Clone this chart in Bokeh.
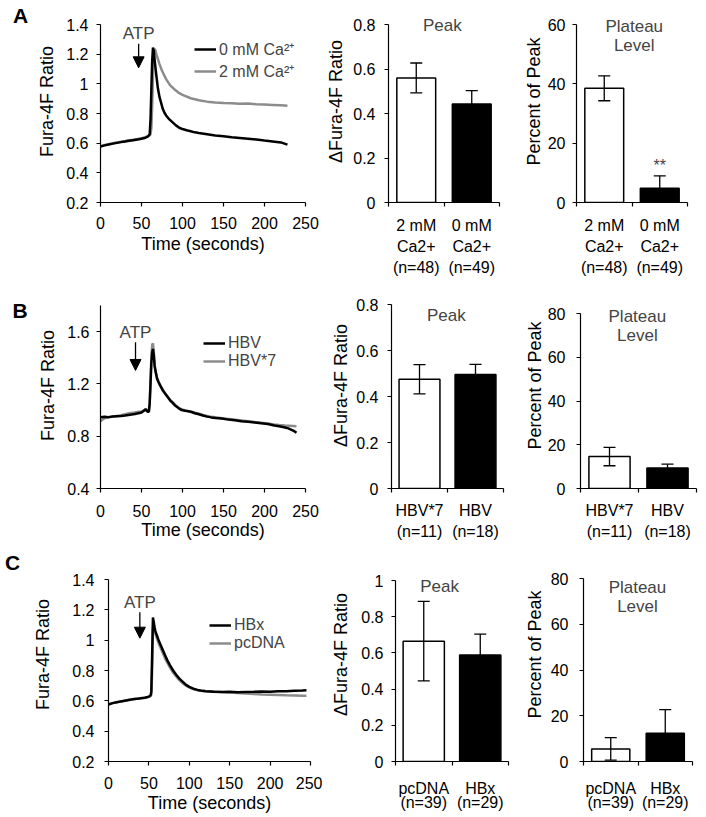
from bokeh.plotting import figure
from bokeh.layouts import column, row
from bokeh.models import (Range1d, FixedTicker, CustomJSTickFormatter, Label, Arrow,
                          NormalHead, Legend, LegendItem, Whisker, TeeHead, ColumnDataSource)
from bokeh.core.properties import value
from bokeh.embed import file_html
from bokeh.resources import INLINE

FONT = "Liberation Sans"
BLACK = "#000000"
GRAY = "#8c8c8c"

# ---------------- data ----------------
time_ticks = [0, 50, 100, 150, 200, 250]

# Panel A traces
a_t_0mM = [0, 5, 10, 15, 20, 25, 30, 35, 40, 45, 50, 55, 58, 60, 61, 62, 63, 64, 65, 66, 68, 70,
           72, 74, 76, 78, 80, 84, 88, 92, 96, 100, 105, 110, 115, 120, 130, 140, 150, 160, 170,
           180, 190, 200, 210, 220, 228]
a_v_0mM = [0.578, 0.585, 0.591, 0.597, 0.602, 0.607, 0.611, 0.616, 0.62, 0.624, 0.63, 0.637,
           0.645, 0.66, 0.76, 0.96, 1.15, 1.245, 1.22, 1.16, 1.06, 0.97, 0.91, 0.87, 0.83, 0.805,
           0.787, 0.76, 0.74, 0.72, 0.704, 0.695, 0.687, 0.68, 0.673, 0.668, 0.66, 0.652, 0.646,
           0.64, 0.635, 0.63, 0.625, 0.618, 0.612, 0.605, 0.59]
a_t_2mM = [0, 5, 10, 15, 20, 25, 30, 35, 40, 45, 50, 55, 58, 60, 61, 62, 63, 64, 65, 66, 67, 68,
           70, 72, 75, 80, 85, 90, 95, 100, 110, 120, 130, 140, 150, 160, 170, 180, 190, 200, 210,
           220, 228]
a_v_2mM = [0.58, 0.587, 0.593, 0.6, 0.605, 0.61, 0.614, 0.619, 0.623, 0.628, 0.634, 0.64, 0.648,
           0.655, 0.66, 0.7, 0.85, 1.05, 1.2, 1.235, 1.225, 1.2, 1.167, 1.133, 1.088, 1.032, 0.99,
           0.964, 0.941, 0.926, 0.903, 0.889, 0.88, 0.874, 0.871, 0.869, 0.865, 0.867, 0.862, 0.86,
           0.858, 0.856, 0.853]

# Panel B traces
b_t_hbv = [0, 5, 10, 15, 20, 25, 30, 34, 38, 42, 46, 50, 53, 55, 57, 58, 59, 60, 61, 62, 63, 64,
           65, 66, 67, 69, 71, 73, 76, 79, 82, 85, 88, 91, 95, 99, 103, 107, 111, 115, 120, 125,
           130, 135, 140, 148, 156, 164, 172, 180, 188, 196, 204, 212, 218, 225, 229, 233, 236, 239]
b_v_hbv = [0.945, 0.948, 0.946, 0.951, 0.953, 0.955, 0.958, 0.963, 0.966, 0.97, 0.976, 0.982,
           0.995, 1.008, 0.992, 0.985, 0.99, 1.05, 1.2, 1.36, 1.44, 1.467, 1.42, 1.34, 1.30, 1.24,
           1.21, 1.185, 1.15, 1.124, 1.10, 1.073, 1.055, 1.034, 1.015, 1.0, 0.995, 0.991, 0.985,
           0.976, 0.968, 0.958, 0.95, 0.944, 0.94, 0.935, 0.927, 0.922, 0.915, 0.91, 0.905, 0.899,
           0.894, 0.882, 0.876, 0.866, 0.86, 0.848, 0.84, 0.826]
b_t_hbv7 = [0, 3, 6, 10, 15, 20, 25, 30, 35, 40, 45, 50, 54, 57, 59, 60, 61, 62, 63, 64, 65, 66,
            67, 69, 71, 73, 76, 79, 82, 85, 88, 91, 95, 99, 103, 107, 111, 115, 120, 125, 130, 135,
            140, 148, 156, 164, 172, 180, 188, 196, 204, 212, 218, 225, 230, 235, 239]
b_v_hbv7 = [0.915, 0.93, 0.94, 0.945, 0.95, 0.955, 0.96, 0.968, 0.975, 0.98, 0.985, 0.99, 1.0,
            0.99, 0.99, 1.06, 1.22, 1.4, 1.5, 1.51, 1.44, 1.35, 1.30, 1.245, 1.215, 1.19, 1.155,
            1.128, 1.10, 1.078, 1.06, 1.04, 1.02, 1.004, 0.998, 0.992, 0.988, 0.98, 0.972, 0.962,
            0.955, 0.948, 0.945, 0.938, 0.932, 0.926, 0.92, 0.914, 0.908, 0.903, 0.898, 0.89,
            0.886, 0.882, 0.88, 0.878, 0.876]

# Panel C traces
c_t = [0, 5, 10, 15, 20, 25, 30, 35, 40, 45, 50, 52, 53, 54, 55, 56, 57, 58, 60, 62, 64, 66, 68,
       70, 73, 76, 80, 84, 88, 92, 96, 100, 105, 110, 115, 120, 130, 140, 150, 160, 170, 180, 190,
       200, 210, 220, 230, 240, 245]
c_v_hbx = [0.575, 0.585, 0.59, 0.595, 0.6, 0.605, 0.61, 0.613, 0.617, 0.62, 0.628, 0.635, 0.66,
           0.9, 1.15, 1.12, 1.085, 1.06, 1.03, 1.0, 0.975, 0.95, 0.925, 0.9, 0.865, 0.835, 0.8,
           0.77, 0.745, 0.725, 0.705, 0.692, 0.68, 0.672, 0.667, 0.663, 0.66, 0.658, 0.66, 0.657,
           0.659, 0.66, 0.662, 0.66, 0.663, 0.664, 0.666, 0.668, 0.67]
c_v_pcdna = [0.58, 0.585, 0.59, 0.596, 0.6, 0.605, 0.61, 0.614, 0.617, 0.62, 0.626, 0.632, 0.64,
             0.8, 1.08, 1.1, 1.07, 1.045, 1.01, 0.98, 0.955, 0.93, 0.905, 0.88, 0.85, 0.82, 0.785,
             0.76, 0.735, 0.715, 0.7, 0.688, 0.678, 0.672, 0.668, 0.665, 0.662, 0.658, 0.655,
             0.652, 0.648, 0.645, 0.642, 0.64, 0.638, 0.636, 0.635, 0.633, 0.633]

# ATP addition marks (time, text level, arrow start, arrow end)
atp_a = [46.5, 1.34, 1.27, 1.108]
atp_b = [42.7, 1.59, 1.519, 1.303]
atp_c = [38.8, 1.249, 1.184, 1.013]

# Bar data
cats_a = ["2 mM\nCa2+\n(n=48)", "0 mM\nCa2+\n(n=49)"]
peak_a_mean = [0.56, 0.443]
peak_a_err = [0.067, 0.06]
plat_a_mean = [38.5, 4.8]
plat_a_err = [4.2, 4.2]

cats_b = ["HBV*7\n(n=11)", "HBV\n(n=18)"]
peak_b_mean = [0.475, 0.496]
peak_b_err = [0.064, 0.044]
plat_b_mean = [14.6, 9.4]
plat_b_err = [4.2, 1.7]

cats_c = ["pcDNA\n(n=39)", "HBx\n(n=29)"]
peak_c_mean = [0.665, 0.589]
peak_c_err = [0.22, 0.115]
plat_c_mean = [5.5, 12.4]
plat_c_err = [4.9, 10.3]

line_a_yticks = [0.2, 0.4, 0.6, 0.8, 1, 1.2, 1.4]
line_b_yticks = [0.4, 0.8, 1.2, 1.6]
line_c_yticks = [0.2, 0.4, 0.6, 0.8, 1, 1.2, 1.4]
peak_ab_yticks = [0, 0.2, 0.4, 0.6, 0.8]
peak_c_yticks = [0, 0.2, 0.4, 0.6, 0.8, 1]
plat_a_yticks = [0, 20, 40, 60]
plat_bc_yticks = [0, 20, 40, 60, 80]

FMT_CODE = "return String(tick);"


def ext_range(lo, hi, top_px, row):
    """y range whose frame spans the whole row above the shared x axis,
    with `hi` landing at pixel `top_px` (page coordinates)."""
    r_top, r_h, bb = row
    bottom = r_top + r_h - bb
    s = (hi - lo) / (bottom - top_px)
    return Range1d(lo, lo + s * (bottom - r_top))


def base_fig(w, row, bl, br, xr, yr):
    p = figure(width=w, height=row[1], x_range=xr, y_range=yr, output_backend="svg",
               title=None, toolbar_location=None, min_border_left=bl, min_border_right=br,
               min_border_top=0, min_border_bottom=row[2])
    p.outline_line_color = None
    p.background_fill_color = "white"
    p.border_fill_color = "white"
    p.xgrid.visible = False
    p.ygrid.visible = False
    for ax in [p.xaxis[0], p.yaxis[0]]:
        ax.axis_line_color = BLACK
        ax.axis_line_width = 1.2
        ax.major_tick_line_color = BLACK
        ax.major_tick_line_width = 1.2
        ax.major_tick_in = 0
        ax.major_tick_out = 4
        ax.minor_tick_line_color = None
        ax.major_label_text_font = FONT
        ax.major_label_text_font_size = "16px"
        ax.major_label_text_color = BLACK
        ax.axis_label_text_font = FONT
        ax.axis_label_text_font_size = "18px"
        ax.axis_label_text_font_style = "normal"
        ax.axis_label_text_color = BLACK
    return p


def letter_fig(row, letter, lx, ly):
    fh = row[1] - row[2]
    p = figure(width=30, height=row[1], x_range=Range1d(0, 30), y_range=Range1d(fh, 0),
               output_backend="svg", toolbar_location=None, x_axis_location=None,
               y_axis_location=None, title=None, min_border=0, min_border_left=0,
               min_border_right=0, min_border_top=0, min_border_bottom=row[2])
    p.outline_line_color = None
    p.background_fill_color = "white"
    p.border_fill_color = "white"
    p.grid.visible = False
    p.text(x=[lx], y=[ly], text=[letter], text_align="center", text_baseline="middle",
           text_font=value(FONT), text_font_size="21px", text_font_style="bold",
           text_color=BLACK)
    return p


def line_panel(row, w, bl, br, ylo, yhi, top_px, yticks, tb, vb, tg, vg, lab_b, lab_g,
               leg_loc, atp, y_std, y_als, x_std, x_als, x_lh=1.2):
    p = base_fig(w, row, bl, br, Range1d(0, 250), ext_range(ylo, yhi, top_px, row))
    p.yaxis.bounds = (ylo, yhi)
    p.xaxis.ticker = FixedTicker(ticks=time_ticks)
    p.yaxis.ticker = FixedTicker(ticks=yticks)
    p.yaxis.formatter = CustomJSTickFormatter(code=FMT_CODE)
    p.xaxis.axis_label = "Time (seconds)"
    p.yaxis.axis_label = "Fura-4F Ratio"
    p.yaxis.major_label_standoff = y_std
    p.yaxis.axis_label_standoff = y_als
    p.xaxis.major_label_standoff = x_std
    p.xaxis.axis_label_standoff = x_als
    p.xaxis.major_label_text_line_height = x_lh
    p.xaxis.axis_label_text_line_height = x_lh
    rg = p.line(tg, vg, line_color=GRAY, line_width=2.5)
    rb = p.line(tb, vb, line_color=BLACK, line_width=2.5)
    leg = Legend(items=[LegendItem(label=lab_b, renderers=[rb]),
                        LegendItem(label=lab_g, renderers=[rg])],
                 location=leg_loc, padding=0, margin=0, spacing=0,
                 glyph_width=22, glyph_height=18, label_height=18, label_standoff=3,
                 label_text_font=FONT, label_text_font_size="16px",
                 background_fill_alpha=0, border_line_alpha=0)
    p.add_layout(leg)
    p.add_layout(Label(x=atp[0], y=atp[1], text="ATP", text_align="center",
                       text_baseline="middle", text_font=FONT, text_font_size="17px"))
    p.add_layout(Arrow(x_start=atp[0], y_start=atp[2], x_end=atp[0], y_end=atp[3],
                       line_width=1.3, line_color=BLACK,
                       end=NormalHead(size=11, fill_color=BLACK, line_color=BLACK)))
    return p


def bar_panel(row, w, bl, br, ytop, top_px, yticks, cats, means, errs, ylabel, title,
              title_x, title_dy, bar_w, lh, x_std, y_std, y_als, stars=None):
    n = len(cats)
    centers = [i + 0.5 for i in range(n)]
    p = base_fig(w, row, bl, br, Range1d(0, n), ext_range(0, ytop, top_px, row))
    p.yaxis.bounds = (0, ytop)
    p.yaxis.ticker = FixedTicker(ticks=yticks)
    p.yaxis.formatter = CustomJSTickFormatter(code=FMT_CODE)
    p.yaxis.axis_label = ylabel
    p.yaxis.major_label_standoff = y_std
    p.yaxis.axis_label_standoff = y_als
    xa = p.xaxis[0]
    xa.ticker = FixedTicker(ticks=centers, minor_ticks=list(range(n + 1)))
    xa.major_tick_out = 0
    xa.minor_tick_in = 0
    xa.minor_tick_out = 4
    xa.minor_tick_line_color = BLACK
    xa.minor_tick_line_width = 1.2
    xa.major_label_overrides = {c: lab for c, lab in zip(centers, cats)}
    xa.major_label_standoff = x_std
    xa.major_label_text_line_height = lh
    p.vbar(x=centers, top=means, bottom=0, width=bar_w, fill_color=["white", "black"],
           line_color=BLACK, line_width=1.5)
    src = ColumnDataSource(dict(base=centers,
                                lower=[m - e for m, e in zip(means, errs)],
                                upper=[m + e for m, e in zip(means, errs)]))
    wk = Whisker(source=src, base="base", lower="lower", upper="upper",
                 line_color=BLACK, line_width=1.3,
                 upper_head=TeeHead(size=12, line_color=BLACK, line_width=1.3),
                 lower_head=TeeHead(size=12, line_color=BLACK, line_width=1.3))
    wk.level = "overlay"
    p.add_layout(wk)
    p.add_layout(Label(x=title_x, y=ytop, y_offset=-title_dy, text=title, text_align="center",
                       text_baseline="middle", text_font=FONT, text_font_size="17px",
                       text_line_height=1.0))
    if stars:
        p.add_layout(Label(x=stars[0], y=stars[1], y_offset=-3, text=stars[2],
                           text_align="center", text_baseline="middle", text_font=FONT,
                           text_font_size="16px"))
    return p


# rows: (page top, height, shared bottom border)
ROW_A = (0, 282, 80)
ROW_B = (282, 265, 59)
ROW_C = (547, 270, 56)

# ---------------- Row A ----------------
la = letter_fig(ROW_A, "A", 20, 15)
a1 = line_panel(ROW_A, 292, 70, 17, 0.2, 1.4, 24, line_a_yticks,
                a_t_0mM, a_v_0mM, a_t_2mM, a_v_2mM, "0 mM Ca\u00b2\u207a", "2 mM Ca\u00b2\u207a",
                (94, 120), atp_a, 8, 6, 10, 2)
a2 = bar_panel(ROW_A, 198, 66, 21, 0.8, 24, peak_ab_yticks, cats_a, peak_a_mean, peak_a_err,
               "\u0394Fura-4F Ratio", "Peak", 0.97, 1, 0.70, 1.25, 10, 9, 4)
a3 = bar_panel(ROW_A, 186, 55, 19, 60, 24, plat_a_yticks, cats_a, plat_a_mean, plat_a_err,
               "Percent of Peak", "Plateau\nLevel", 1.04, 11, 0.70, 1.25, 10, 7, 1,
               stars=(1.5, 13.5, "**"))

# ---------------- Row B ----------------
lb = letter_fig(ROW_B, "B", 19.5, 27.5)
b1 = line_panel(ROW_B, 292, 70, 17, 0.4, 1.8, 305, line_b_yticks,
                b_t_hbv, b_v_hbv, b_t_hbv7, b_v_hbv7, "HBV", "HBV*7",
                (103, 118), atp_b, 7, 6, 12, 0)
b2 = bar_panel(ROW_B, 198, 69, 17, 0.8, 304, peak_ab_yticks, cats_b, peak_b_mean, peak_b_err,
               "\u0394Fura-4F Ratio", "Peak", 0.98, 11, 0.73, 1.25, 9, 9, 2)
b3 = bar_panel(ROW_B, 186, 60, 10, 80, 313, plat_bc_yticks, cats_b, plat_b_mean, plat_b_err,
               "Percent of Peak", "Plateau\nLevel", 0.98, 12.5, 0.71, 1.25, 9, 11, 0)

# ---------------- Row C ----------------
lc = letter_fig(ROW_C, "C", 12, 14.5)
c1 = line_panel(ROW_C, 292, 72, 12, 0.2, 1.4, 579, line_c_yticks,
                c_t, c_v_hbx, c_t, c_v_pcdna, "HBx", "pcDNA",
                (101, 109), atp_c, 10, 16, 11, 1, x_lh=1.0)
c2 = bar_panel(ROW_C, 198, 73, 12, 1, 580, peak_c_yticks, cats_c, peak_c_mean, peak_c_err,
               "\u0394Fura-4F Ratio", "Peak", 0.78, 6, 0.73, 0.85, 14, 8, 7)
c3 = bar_panel(ROW_C, 186, 63, 14, 80, 578, plat_bc_yticks, cats_c, plat_c_mean, plat_c_err,
               "Percent of Peak", "Plateau\nLevel", 0.99, 18.5, 0.70, 0.85, 14, 11, 3)

layout = column(row(la, a1, a2, a3, spacing=0), row(lb, b1, b2, b3, spacing=0),
                row(lc, c1, c2, c3, spacing=0), spacing=0)

open("out.html", "w").write(file_html(layout, INLINE))
